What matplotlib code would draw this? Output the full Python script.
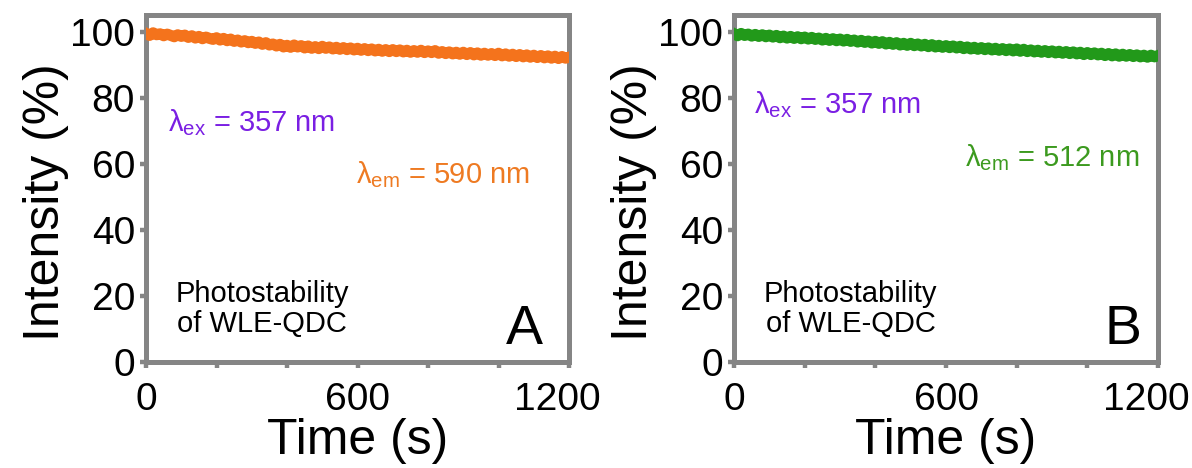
import matplotlib
matplotlib.use("Agg")
import matplotlib.pyplot as plt
import matplotlib.transforms as mtransforms

plt.rcParams['font.family'] = ['Liberation Sans', 'DejaVu Sans']

# --- DATA (10 s steps) ---
time_s = list(range(0, 1201, 10))

intensity_a = [
    99.6, 99.0, 99.8, 99.2, 99.5, 98.9, 99.4, 99.0, 98.6, 99.2,
    98.7, 99.1, 98.4, 98.9, 98.2, 98.7, 98.0, 98.5, 98.1, 97.8,
    98.3, 97.6, 98.1, 97.4, 97.9, 97.2, 97.6, 97.0, 97.4, 96.8,
    97.2, 96.6, 97.0, 96.3, 96.8, 96.1, 96.4, 95.8, 96.3, 95.5,
    96.0, 95.4, 96.1, 95.5, 95.9, 95.2, 95.8, 95.1, 95.6, 95.0,
    95.7, 95.1, 95.5, 94.9, 95.4, 94.8, 95.3, 94.7, 95.2, 94.6,
    95.1, 94.5, 95.0, 94.4, 94.9, 94.3, 94.8, 94.2, 94.7, 94.1,
    94.7, 94.1, 94.6, 94.0, 94.5, 93.9, 94.4, 93.9, 94.5, 93.8,
    94.3, 93.8, 94.4, 93.6, 94.1, 93.5, 94.0, 93.4, 93.9, 93.3,
    93.9, 93.2, 93.8, 93.1, 93.7, 93.0, 93.6, 93.0, 93.5, 92.9,
    93.6, 92.8, 93.4, 92.7, 93.3, 92.6, 93.2, 92.5, 93.1, 92.4,
    93.0, 92.3, 92.9, 92.2, 92.8, 92.1, 92.7, 92.0, 92.6, 92.1,
    92.4]

intensity_b = [
    99.5, 98.9, 99.6, 99.0, 99.4, 98.8, 99.3, 98.7, 99.2, 98.6,
    99.1, 98.5, 99.0, 98.3, 98.8, 98.2, 98.7, 98.1, 98.6, 98.0,
    98.5, 97.9, 98.4, 97.8, 98.2, 97.6, 98.1, 97.5, 98.0, 97.4,
    97.9, 97.3, 97.8, 97.2, 97.6, 97.0, 97.5, 96.9, 97.3, 96.7,
    97.2, 96.6, 97.1, 96.4, 96.9, 96.3, 96.8, 96.1, 96.6, 96.0,
    96.6, 95.9, 96.4, 95.8, 96.3, 95.6, 96.2, 95.5, 96.0, 95.4,
    95.9, 95.3, 95.8, 95.2, 95.7, 95.0, 95.5, 94.9, 95.4, 94.8,
    95.3, 94.7, 95.2, 94.6, 95.1, 94.5, 95.0, 94.4, 94.9, 94.3,
    94.9, 94.2, 94.8, 94.1, 94.6, 94.0, 94.5, 93.9, 94.4, 93.8,
    94.3, 93.7, 94.2, 93.6, 94.1, 93.5, 94.0, 93.4, 93.9, 93.2,
    93.8, 93.2, 93.7, 93.1, 93.6, 92.9, 93.5, 92.8, 93.4, 92.7,
    93.3, 92.7, 93.2, 92.6, 93.1, 92.5, 93.0, 92.4, 93.0, 92.5,
    92.9]

panels = ['A', 'B']
em_labels = ['590', '512']
ex_label = '357'
line_colors = ['#F4731C', '#22991A']
em_text_colors = ['#EE7A22', '#3C9A1F']
ex_color = '#7A1FE3'
spine_gray = '#858585'

# text placement per panel (data coords)
ex_pos = [(62, 72.6), (57, 77.9)]
em_pos = [(595, 56.8), (655, 62.1)]
letter_pos = [(1072, 5.5), (1102, 5.5)]

fig = plt.figure(figsize=(11.92, 4.68), dpi=100)
ax_a = fig.add_axes([0.1225, 0.2265, 0.3549, 0.7415])
ax_b = fig.add_axes([0.6158, 0.2265, 0.3557, 0.7415])

# the last x tick label sits a bit left of its tick in the original
shift_left = mtransforms.ScaledTranslation(-0.12, 0, fig.dpi_scale_trans)

for i, (ax, y) in enumerate(zip([ax_a, ax_b], [intensity_a, intensity_b])):
    ax.plot(time_s, y, color=line_colors[i], linewidth=8, zorder=3)

    ax.set_xlim(0, 1200)
    ax.set_ylim(0, 105.2)
    ax.set_xticks([0, 600, 1200])
    ax.set_xticks([200, 400, 800, 1000], minor=True)
    ax.set_yticks([0, 20, 40, 60, 80, 100])

    for s in ax.spines.values():
        s.set_color(spine_gray)
        s.set_linewidth(3.6)

    ax.tick_params(which='both', direction='out', length=4.5, width=3.2,
                   color=spine_gray, labelsize=28)
    ax.tick_params(axis='x', pad=10)
    ax.tick_params(axis='y', pad=3.5)
    for lab in ax.get_xticklabels() + ax.get_yticklabels():
        lab.set_color('black')
    last = ax.get_xticklabels()[-1]
    last.set_transform(last.get_transform() + shift_left)

    ax.set_xlabel('Time (s)', fontsize=36, labelpad=0)
    ax.set_ylabel('Intensity (%)', fontsize=36, labelpad=1)
    ax.yaxis.label.set_y(0.46)

    ax.text(ex_pos[i][0], ex_pos[i][1],
            r'$\mathregular{λ_{ex}}$ = ' + ex_label + ' nm',
            color=ex_color, fontsize=21, ha='left', va='center')
    ax.text(em_pos[i][0], em_pos[i][1],
            r'$\mathregular{λ_{em}}$ = ' + em_labels[i] + ' nm',
            color=em_text_colors[i], fontsize=21, ha='left', va='center')
    ax.text(330, 16, 'Photostability\nof WLE-QDC', fontsize=21,
            ha='center', va='center', linespacing=1.1)
    ax.text(letter_pos[i][0], letter_pos[i][1], panels[i], fontsize=40,
            ha='center', va='baseline')

fig.savefig('out.png', dpi=100)
